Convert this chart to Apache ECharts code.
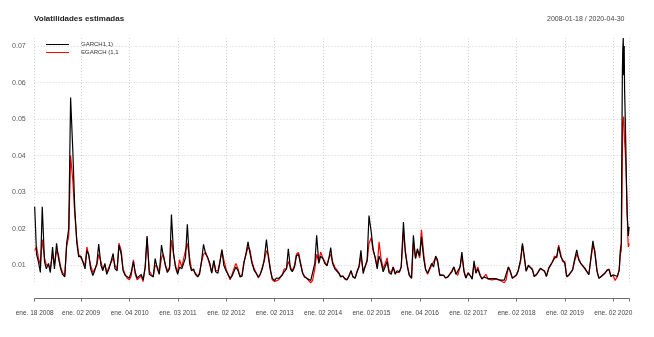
<!DOCTYPE html>
<html><head><meta charset="utf-8">
<script src="https://cdn.jsdelivr.net/npm/echarts@6/dist/echarts.min.js"></script>
<style>html,body{margin:0;padding:0;background:#fff}#c{width:654px;height:337px}</style>
</head><body><div id="c"></div>
<script>
// GARCH(1,1) volatility, semi-monthly readings (2008 starts 2008-01-18; 2020 uses dates2020)
const g2008 = [0.026, 0.013, 0.011, 0.008, 0.026, 0.011, 0.009, 0.0105, 0.008, 0.015, 0.009, 0.016,
               0.012, 0.009, 0.0075, 0.0068, 0.016, 0.020, 0.0559, 0.041, 0.026, 0.016, 0.0123];
const g2009 = [0.0125, 0.011, 0.009, 0.014, 0.013, 0.009, 0.0072, 0.0085, 0.0105, 0.0158, 0.010, 0.0085,
               0.0105, 0.0075, 0.009, 0.0085, 0.0132, 0.009, 0.0085, 0.0155, 0.013, 0.0085, 0.0072, 0.0068];
const g2010 = [0.0065, 0.008, 0.011, 0.008, 0.0065, 0.0062, 0.0075, 0.006, 0.0095, 0.018, 0.0075, 0.007,
               0.0068, 0.0118, 0.009, 0.0075, 0.0155, 0.0125, 0.0098, 0.008, 0.009, 0.0239, 0.0132, 0.0095];
const g2011 = [0.0075, 0.0095, 0.009, 0.0095, 0.012, 0.0212, 0.0105, 0.0085, 0.009, 0.0075, 0.0068, 0.0075,
               0.0114, 0.0157, 0.013, 0.0122, 0.0105, 0.0078, 0.0113, 0.0082, 0.0078, 0.0105, 0.0143, 0.010];
const g2012 = [0.0085, 0.008, 0.0064, 0.007, 0.0075, 0.0095, 0.0085, 0.0068, 0.007, 0.0105, 0.0135, 0.0164,
               0.013, 0.0105, 0.0085, 0.0078, 0.0068, 0.0075, 0.009, 0.0115, 0.017, 0.0123, 0.0085, 0.0064];
const g2013 = [0.0058, 0.0065, 0.0064, 0.0065, 0.0073, 0.0082, 0.009, 0.0145, 0.009, 0.0082, 0.0095, 0.0125,
               0.013, 0.0105, 0.0078, 0.0068, 0.0064, 0.006, 0.0058, 0.0062, 0.0105, 0.0182, 0.0105, 0.0125];
const g2014 = [0.0118, 0.0105, 0.0098, 0.0118, 0.0148, 0.0105, 0.009, 0.0088, 0.0078, 0.0068, 0.007, 0.0064,
               0.006, 0.0068, 0.0085, 0.0068, 0.0064, 0.0082, 0.0098, 0.0141, 0.0077, 0.0082, 0.0115, 0.0236];
const g2015 = [0.019, 0.0145, 0.0118, 0.009, 0.0125, 0.011, 0.0082, 0.0095, 0.011, 0.008, 0.0075, 0.0095,
               0.0075, 0.0085, 0.0082, 0.0095, 0.0218, 0.0135, 0.0095, 0.0072, 0.0064, 0.0182, 0.0118, 0.0145];
const g2016 = [0.0125, 0.0177, 0.0118, 0.0088, 0.0078, 0.0082, 0.0105, 0.0095, 0.0125, 0.0115, 0.0072, 0.0068,
               0.0072, 0.0065, 0.0068, 0.0075, 0.0082, 0.0095, 0.0075, 0.0072, 0.0095, 0.0136, 0.0082, 0.0065];
const g2017 = [0.0078, 0.0072, 0.0062, 0.0112, 0.0078, 0.009, 0.0072, 0.0063, 0.0068, 0.0072, 0.0063, 0.0064,
               0.0063, 0.0062, 0.0063, 0.0061, 0.0059, 0.0055, 0.0059, 0.0062, 0.0095, 0.0085, 0.0064, 0.0065];
const g2018 = [0.0074, 0.0087, 0.0115, 0.016, 0.0124, 0.0083, 0.010, 0.0096, 0.0087, 0.0069, 0.0074, 0.0069,
               0.0092, 0.0092, 0.0083, 0.0069, 0.0092, 0.0096, 0.011, 0.0119, 0.0124, 0.0151, 0.0124, 0.0115];
const g2019 = [0.0105, 0.0069, 0.0074, 0.0074, 0.0087, 0.0115, 0.0142, 0.0115, 0.0105, 0.010, 0.0092, 0.0092,
               0.0074, 0.0074, 0.0167, 0.0135, 0.0083, 0.0064, 0.0069, 0.0069, 0.0078, 0.0087, 0.0087, 0.0069];
const g2020 = [0.0074, 0.0069, 0.0069, 0.0087, 0.0142, 0.016, 0.040, 0.062, 0.069, 0.0722,
               0.062, 0.070, 0.058, 0.050, 0.041, 0.032, 0.024, 0.021, 0.018, 0.0205];

// EGARCH(1,1) volatility, same dates
const e2008 = [0.014, 0.015, 0.012, 0.010, 0.017, 0.012, 0.010, 0.010, 0.009, 0.013, 0.010, 0.014,
               0.013, 0.0095, 0.008, 0.0072, 0.015, 0.018, 0.040, 0.033, 0.024, 0.017, 0.013];
const e2009 = [0.012, 0.012, 0.010, 0.015, 0.015, 0.010, 0.008, 0.009, 0.010, 0.013, 0.011, 0.009,
               0.010, 0.008, 0.0095, 0.009, 0.012, 0.010, 0.009, 0.016, 0.014, 0.009, 0.0075, 0.0065];
const e2010 = [0.006, 0.007, 0.0115, 0.0075, 0.006, 0.0055, 0.007, 0.0055, 0.0095, 0.0175, 0.0085, 0.0075,
               0.007, 0.010, 0.0095, 0.008, 0.012, 0.013, 0.010, 0.0085, 0.0095, 0.0168, 0.013, 0.010];
const e2011 = [0.008, 0.0115, 0.0095, 0.010, 0.014, 0.016, 0.012, 0.009, 0.0085, 0.008, 0.007, 0.008,
               0.011, 0.013, 0.0135, 0.012, 0.010, 0.008, 0.011, 0.0085, 0.0085, 0.011, 0.014, 0.0115];
const e2012 = [0.009, 0.0085, 0.006, 0.0075, 0.008, 0.0105, 0.009, 0.007, 0.0075, 0.011, 0.013, 0.015,
               0.014, 0.011, 0.009, 0.008, 0.0065, 0.0075, 0.0095, 0.011, 0.014, 0.013, 0.009, 0.006];
const e2013 = [0.0055, 0.006, 0.006, 0.0065, 0.0075, 0.009, 0.009, 0.011, 0.0095, 0.0085, 0.010, 0.013,
               0.0135, 0.011, 0.008, 0.007, 0.0065, 0.0058, 0.0052, 0.0058, 0.009, 0.013, 0.011, 0.0136];
const e2014 = [0.012, 0.011, 0.010, 0.012, 0.013, 0.011, 0.0095, 0.0095, 0.008, 0.007, 0.007, 0.0062,
               0.006, 0.007, 0.0085, 0.007, 0.0065, 0.008, 0.0095, 0.0125, 0.0085, 0.008, 0.011, 0.016];
const e2015 = [0.0175, 0.014, 0.012, 0.0095, 0.0164, 0.012, 0.009, 0.0095, 0.012, 0.0085, 0.008, 0.0095,
               0.008, 0.0085, 0.008, 0.0095, 0.019, 0.014, 0.010, 0.0075, 0.0065, 0.016, 0.012, 0.014];
const e2016 = [0.012, 0.0197, 0.013, 0.009, 0.0075, 0.008, 0.010, 0.0095, 0.012, 0.011, 0.0075, 0.007,
               0.0072, 0.0065, 0.0068, 0.0075, 0.0085, 0.0095, 0.008, 0.0072, 0.0095, 0.0125, 0.0085, 0.0065];
const e2017 = [0.008, 0.0075, 0.0065, 0.0105, 0.008, 0.0095, 0.0075, 0.0062, 0.0068, 0.0075, 0.0062, 0.0064,
               0.006, 0.0058, 0.0062, 0.006, 0.0058, 0.0054, 0.0052, 0.006, 0.0095, 0.009, 0.0065, 0.0068];
const e2018 = [0.0072, 0.0085, 0.011, 0.0155, 0.012, 0.0085, 0.0098, 0.0095, 0.009, 0.007, 0.0075, 0.007,
               0.009, 0.0095, 0.0085, 0.007, 0.009, 0.0095, 0.011, 0.0125, 0.012, 0.0155, 0.013, 0.011];
const e2019 = [0.011, 0.0068, 0.0072, 0.0075, 0.0088, 0.011, 0.013, 0.012, 0.0105, 0.010, 0.009, 0.0095,
               0.0075, 0.0072, 0.0155, 0.014, 0.0085, 0.0065, 0.0068, 0.007, 0.008, 0.0085, 0.009, 0.007];
const e2020 = [0.0072, 0.0058, 0.0068, 0.0085, 0.013, 0.014, 0.025, 0.040, 0.049, 0.050,
               0.0507, 0.047, 0.044, 0.041, 0.037, 0.033, 0.026, 0.018, 0.015, 0.016];

const firstDate = '2008-01-18';
const lastDate = '2020-04-30';
const dates2020 = ['2020-01-01','2020-01-15','2020-02-01','2020-02-15','2020-02-24','2020-03-02','2020-03-06',
  '2020-03-10','2020-03-13','2020-03-17','2020-03-20','2020-03-24','2020-03-27','2020-04-01','2020-04-06',
  '2020-04-10','2020-04-15','2020-04-20','2020-04-24','2020-04-30'];
const tickDates = ['2008-01-18','2009-01-02','2010-01-04','2011-01-03','2012-01-02','2013-01-02','2014-01-02',
  '2015-01-02','2016-01-04','2017-01-02','2018-01-02','2019-01-02','2020-01-02'];
const tickLabels = ['ene. 18 2008','ene. 02 2009','ene. 04 2010','ene. 03 2011','ene. 02 2012','ene. 02 2013',
  'ene. 02 2014','ene. 02 2015','ene. 04 2016','ene. 02 2017','ene. 02 2018','ene. 02 2019','ene. 02 2020'];
const yTicks = [0.01, 0.02, 0.03, 0.04, 0.05, 0.06, 0.07];
const seriesNames = ['GARCH1,1)', 'EGARCH (1,1'];

function ts(s){ const p = s.split('-').map(Number); return Date.UTC(p[0], p[1]-1, p[2]); }
function pad(n){ return (n < 10 ? '0' : '') + n; }

// semi-monthly calendar (1st and 15th)
const dates = [firstDate];
for (let m = 2; m <= 12; m++) dates.push('2008-' + pad(m) + '-01', '2008-' + pad(m) + '-15');
for (let y = 2009; y <= 2019; y++)
  for (let m = 1; m <= 12; m++) dates.push(y + '-' + pad(m) + '-01', y + '-' + pad(m) + '-15');
dates.push(...dates2020);

const garch = [].concat(g2008,g2009,g2010,g2011,g2012,g2013,g2014,g2015,g2016,g2017,g2018,g2019,g2020);
const egarch = [].concat(e2008,e2009,e2010,e2011,e2012,e2013,e2014,e2015,e2016,e2017,e2018,e2019,e2020);

const gData = dates.map((d, i) => [ts(d), garch[i]]);
const eData = dates.map((d, i) => [ts(d), egarch[i]]);
const tickTs = tickDates.map(ts);
const xMin = ts(firstDate), xMax = ts(lastDate);

const FONT = 'Liberation Sans, Arial, sans-serif';
const chart = echarts.init(document.getElementById('c'), null, {renderer: 'canvas'});
chart.setOption({
  animation: false,
  backgroundColor: '#fff',
  title: [
    {text: 'Volatilidades estimadas', left: 29, top: 10,
     textStyle: {fontFamily: FONT, fontSize: 8, fontWeight: 'bold', color: '#222'}},
    {text: firstDate + ' / ' + lastDate, right: 24.5, top: 10.5,
     textStyle: {fontFamily: FONT, fontSize: 7, fontWeight: 'normal', color: '#444'}}
  ],
  grid: [
    {left: 34.7, right: 24.9, top: 38, bottom: 52.8},
    {left: 34.7, right: 24.9, top: 297.5, height: 1}
  ],
  xAxis: [
    {type: 'value', gridIndex: 0, min: xMin, max: xMax,
     axisLine: {show: false}, axisLabel: {show: false, customValues: tickTs.concat([xMax])},
     axisTick: {show: false, customValues: tickTs.concat([xMax])},
     splitLine: {show: true, lineStyle: {color: '#d4d4d4', type: [1, 2], width: 1}}},
    {type: 'value', gridIndex: 1, min: xMin, max: xMax, position: 'bottom',
     axisLine: {show: true, lineStyle: {color: '#6e6e6e', width: 1}},
     axisTick: {show: true, length: 3, customValues: tickTs.concat([xMax]), lineStyle: {color: '#6e6e6e'}},
     axisLabel: {show: true, customValues: tickTs, margin: 11, fontFamily: FONT, fontSize: 6.5, color: '#444',
       hideOverlap: false,
       formatter: v => { const i = tickTs.indexOf(v); return i >= 0 ? tickLabels[i] : ''; }},
     splitLine: {show: false}}
  ],
  yAxis: [
    {type: 'value', gridIndex: 0, min: 0.0048, max: 0.0722,
     axisLine: {show: false}, axisTick: {show: false, customValues: yTicks},
     axisLabel: {customValues: yTicks, margin: 9, fontFamily: FONT, fontSize: 7, color: '#555',
       formatter: v => v.toFixed(2)},
     splitLine: {show: true, lineStyle: {color: '#d4d4d4', type: [1, 2], width: 1}}},
    {type: 'value', gridIndex: 1, min: 0, max: 1, show: false}
  ],
  series: [
    {name: seriesNames[1], type: 'line', xAxisIndex: 0, yAxisIndex: 0, data: eData,
     showSymbol: false, lineStyle: {color: '#ff0000', width: 1.2}, itemStyle: {color: '#ff0000'}, z: 2},
    {name: seriesNames[0], type: 'line', xAxisIndex: 0, yAxisIndex: 0, data: gData,
     showSymbol: false, lineStyle: {color: '#000', width: 1.2}, itemStyle: {color: '#000'}, z: 3},
    {type: 'line', xAxisIndex: 1, yAxisIndex: 1, data: [], silent: true}
  ],
  graphic: [
    {type: 'line', shape: {x1: 46, y1: 44.5, x2: 69, y2: 44.5}, style: {stroke: '#000', lineWidth: 1}},
    {type: 'line', shape: {x1: 46, y1: 52.5, x2: 69, y2: 52.5}, style: {stroke: '#ff0000', lineWidth: 1}},
    {type: 'text', x: 81, y: 44.5, style: {text: seriesNames[0], font: '6px ' + FONT, fill: '#333', textVerticalAlign: 'middle'}},
    {type: 'text', x: 81, y: 52.5, style: {text: seriesNames[1], font: '6px ' + FONT, fill: '#333', textVerticalAlign: 'middle'}}
  ]
});
</script></body></html>
